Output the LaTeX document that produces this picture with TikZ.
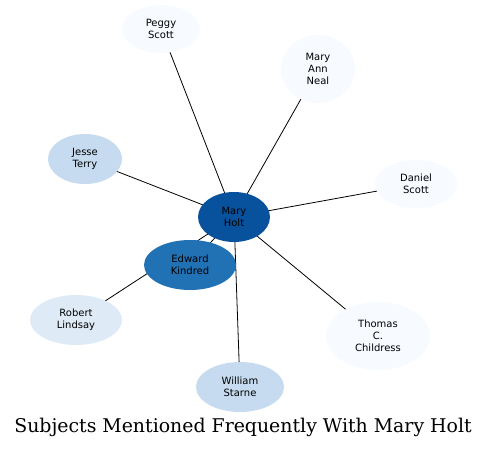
\documentclass[tikz,border=0pt]{standalone}
\usepackage{fontspec}
\setmainfont{DejaVu Serif}
\newfontfamily\namefont{DejaVu Sans}
\usetikzlibrary{shapes.geometric,backgrounds}
\definecolor{hubblue}{HTML}{08519C}
\definecolor{midblue}{HTML}{2171B5}
\definecolor{softblue}{HTML}{C6DBEF}
\definecolor{paleblue}{HTML}{DEEBF7}
\definecolor{faintblue}{HTML}{F7FBFF}

\begin{document}
\begin{tikzpicture}[
    x=1pt, y=-1pt,
    subj/.style={ellipse, draw=none, inner sep=0pt, align=center,
        font=\namefont\fontsize{10}{12}\selectfont},
    link/.style={draw=black, line width=0.8pt}
]
\useasboundingbox (0,0) rectangle (488,448);

% zentrale Person
\node[subj, fill=hubblue, minimum width=72, minimum height=50] (holt) at (234,217) {Mary\\Holt};
\node[subj, fill=midblue, minimum width=92, minimum height=50] (kindred) at (190,265) {Edward\\Kindred};

% weitere Personen
\node[subj, fill=faintblue, minimum width=78, minimum height=48] (peggy) at (161,29) {Peggy\\Scott};
\node[subj, fill=faintblue, minimum width=74, minimum height=68] (neal) at (318,69) {Mary\\Ann\\Neal};
\node[subj, fill=softblue, minimum width=74, minimum height=50] (terry) at (85,159) {Jesse\\Terry};
\node[subj, fill=faintblue, minimum width=82, minimum height=48] (daniel) at (416,184) {Daniel\\Scott};
\node[subj, fill=paleblue, minimum width=92, minimum height=50] (lindsay) at (76,320) {Robert\\Lindsay};
\node[subj, fill=faintblue, minimum width=104, minimum height=68] (childress) at (378,336) {Thomas\\C.\\Childress};
\node[subj, fill=softblue, minimum width=88, minimum height=50] (starne) at (240,387) {William\\Starne};

% Verbindungen hinter den Knoten
\begin{scope}[on background layer]
\draw[link] (holt.center) -- (peggy.center);
\draw[link] (holt.center) -- (neal.center);
\draw[link] (holt.center) -- (terry.center);
\draw[link] (holt.center) -- (daniel.center);
\draw[link] (holt.center) -- (kindred.center);
\draw[link] (holt.center) -- (lindsay.center);
\draw[link] (holt.center) -- (childress.center);
\draw[link] (holt.center) -- (starne.center);
\end{scope}

% Titel
\node[font=\fontsize{18.9}{20}\selectfont] (title) at (243,427) {Subjects Mentioned Frequently With Mary Holt};

\end{tikzpicture}
\end{document}
